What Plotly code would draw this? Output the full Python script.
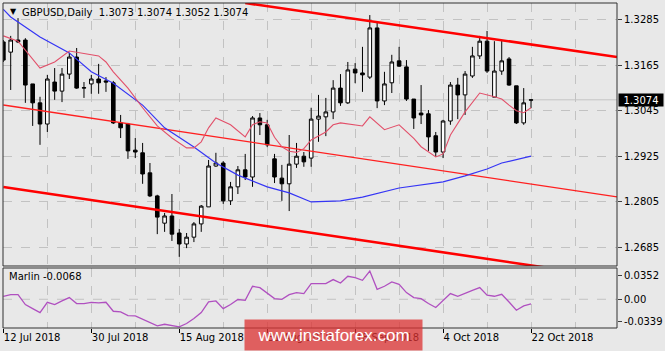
import plotly.graph_objects as go

# ---- data ----
bar_idx = list(range(73))
tick_idx = [0, 12, 24, 36, 48, 60, 72]
tick_text = ['12 Jul 2018', '30 Jul 2018', '15 Aug 2018', '31 Aug 2018',
             '18 Sep 2018', '4 Oct 2018', '22 Oct 2018']

open_ = [1.3227,1.3200,1.3232,1.3232,1.3116,1.3066,1.3010,1.3121,1.3097,1.3142,
         1.3187,1.3105,1.3116,1.3129,1.3124,1.3119,1.3013,1.3010,1.2941,1.2934,
         1.2881,1.2820,1.2748,1.2767,1.2722,1.2693,1.2711,1.2746,1.2791,1.2899,
         1.2907,1.2807,1.2844,1.2889,1.2870,1.3026,1.3008,1.2918,1.2867,1.2852,
         1.2904,1.2925,1.2920,1.3023,1.3029,1.3042,1.3105,1.3066,1.3155,1.3145,
         1.3134,1.3264,1.3071,1.3119,1.3177,1.3161,1.3076,1.3039,1.3037,1.2979,
         1.2936,1.3018,1.3113,1.3087,1.3137,1.3190,1.3229,1.3081,1.3150,1.3182,
         1.3111,1.3013,1.3073]
high = [1.3232,1.3243,1.3290,1.3237,1.3116,1.3082,1.3140,1.3158,1.3158,1.3198,
        1.3211,1.3121,1.3140,1.3169,1.3134,1.3124,1.3034,1.3013,1.2973,1.2960,
        1.2907,1.2823,1.2775,1.2825,1.2733,1.2722,1.2751,1.2796,1.2915,1.2934,
        1.2912,1.2857,1.2899,1.2931,1.3031,1.3039,1.3021,1.2931,1.2902,1.2981,
        1.2960,1.2936,1.3053,1.3087,1.3079,1.3126,1.3142,1.3174,1.3171,1.3214,
        1.3298,1.3277,1.3148,1.3193,1.3214,1.3179,1.3076,1.3113,1.3047,1.2989,
        1.3021,1.3121,1.3132,1.3150,1.3214,1.3243,1.3256,1.3229,1.3232,1.3187,
        1.3111,1.3105,1.3074]
low = [1.3174,1.3100,1.3224,1.3066,1.3005,1.2955,1.2989,1.3074,1.3068,1.3129,
       1.3103,1.3079,1.3090,1.3090,1.3095,1.3010,1.2973,1.2918,1.2920,1.2852,
       1.2817,1.2719,1.2725,1.2701,1.2659,1.2682,1.2698,1.2725,1.2791,1.2897,
       1.2799,1.2796,1.2825,1.2862,1.2844,1.2981,1.2949,1.2854,1.2807,1.2780,
       1.2894,1.2897,1.2897,1.2963,1.2978,1.3023,1.3058,1.3063,1.3118,1.3095,
       1.3129,1.3052,1.3060,1.3092,1.3161,1.3071,1.2997,1.3010,1.2939,1.2923,
       1.2920,1.3008,1.3023,1.3034,1.3132,1.3182,1.3145,1.3081,1.3140,1.3111,
       1.3010,1.3008,1.3052]
close = [1.3179,1.3232,1.3227,1.3113,1.3066,1.3010,1.3129,1.3097,1.3142,1.3187,
         1.3105,1.3106,1.3129,1.3119,1.3121,1.3013,1.3000,1.2939,1.2936,1.2878,
         1.2820,1.2764,1.2767,1.2719,1.2693,1.2711,1.2746,1.2793,1.2899,1.2907,
         1.2807,1.2844,1.2889,1.2870,1.3026,1.3008,1.2955,1.2870,1.2852,1.2904,
         1.2925,1.2910,1.3023,1.3031,1.3042,1.3105,1.3066,1.3153,1.3145,1.3140,
         1.3264,1.3071,1.3116,1.3174,1.3163,1.3076,1.3026,1.3034,1.2976,1.2936,
         1.3018,1.3113,1.3087,1.3142,1.3190,1.3229,1.3150,1.3150,1.3177,1.3113,
         1.3013,1.3066,1.3074]

# red (fast) moving average, read points
red_ma_x = [0,2,5,7,9,10,13,14,15,17,19,21,23,25,26,27,28,29,31,33,34,35,36,37,38,39,40,
            41,42,44,45,46,49,50,52,54,56,57,59,60,61,63,65,67,68,69,70,71,72]
red_ma_y = [1.3243,1.3229,1.3158,1.3174,1.3203,1.3200,1.3190,1.3174,1.3148,1.3105,1.3053,
            1.3005,1.2973,1.2947,1.2947,1.2963,1.3000,1.3026,1.3008,1.2976,1.3008,1.3016,
            1.3013,1.2975,1.2950,1.2938,1.2935,1.2945,1.2968,1.2989,1.3008,1.3013,1.3005,
            1.3029,1.2995,1.3008,1.2972,1.2950,1.2923,1.2931,1.2981,1.3042,1.3092,1.3082,
            1.3076,1.3060,1.3045,1.3040,1.3053]

# blue (slow) moving average, read points
blue_ma_x = [0,1,5,9,12,15,19,22,26,29,32,36,39,42,46,49,54,57,60,63,66,68,72]
blue_ma_y = [1.3313,1.3293,1.3240,1.3198,1.3148,1.3118,1.3060,1.3000,1.2949,1.2907,1.2875,
             1.2844,1.2828,1.2804,1.2807,1.2817,1.2841,1.2849,1.2857,1.2873,1.2891,1.2907,
             1.2925]

# channel lines (start / end points)
top_line_x = [33.0, 83.73]
top_line_y = [1.33299, 1.31872]
mid_line_x = [0.0, 83.73]
mid_line_y = [1.30603, 1.28172]
bot_line_x = [0.0, 83.73]
bot_line_y = [1.28436, 1.26026]

# Marlin oscillator
marlin = [0.0045,0.0070,0.0070,-0.0079,-0.0139,-0.0198,-0.0045,-0.0079,-0.0025,0.0025,
          -0.0064,-0.0064,-0.0045,-0.0055,-0.0045,-0.0179,-0.0189,-0.0243,-0.0249,-0.0302,
          -0.0353,-0.0398,-0.0373,-0.0392,-0.0413,-0.0362,-0.0288,-0.0198,-0.0040,-0.0025,
          -0.0139,-0.0079,-0.0004,-0.0015,0.0194,0.0174,0.0094,0.0010,0.0000,0.0070,
          0.0100,0.0085,0.0234,0.0234,0.0234,0.0294,0.0243,0.0343,0.0323,0.0283,
          0.0422,0.0149,0.0194,0.0258,0.0224,0.0100,0.0025,0.0010,-0.0064,-0.0124,
          -0.0015,0.0085,0.0045,0.0094,0.0134,0.0174,0.0060,0.0045,0.0075,-0.0040,
          -0.0164,-0.0100,-0.0068]

price_ticks = [1.3285, 1.3165, 1.3045, 1.2925, 1.2805, 1.2685]
osc_ticks = [0.0352, 0.0, -0.0339]
osc_tick_text = ['0.0352', '0.00', '-0.0339']
bid = 1.3074
title_text = 'GBPUSD,Daily  1.3073 1.3074 1.3052 1.3074'
marlin_label = 'Marlin -0.0068'

# ---- figure ----
FONT = 'DejaVu Sans'
BG = '#e8e8e8'
GRID = '#c2c2c2'

fig = go.Figure()

fig.add_trace(go.Scatter(x=mid_line_x, y=mid_line_y, mode='lines',
                         line=dict(color='#ff2020', width=1.3), hoverinfo='skip'))
fig.add_trace(go.Scatter(x=top_line_x, y=top_line_y, mode='lines',
                         line=dict(color='#ff0000', width=2.6), hoverinfo='skip'))
fig.add_trace(go.Scatter(x=bot_line_x, y=bot_line_y, mode='lines',
                         line=dict(color='#ff0000', width=2.6), hoverinfo='skip'))
fig.add_trace(go.Scatter(x=blue_ma_x, y=blue_ma_y, mode='lines',
                         line=dict(color='#3535f5', width=1.2), hoverinfo='skip'))
fig.add_trace(go.Scatter(x=red_ma_x, y=red_ma_y, mode='lines',
                         line=dict(color='#e2506a', width=1.1), hoverinfo='skip'))

fig.add_trace(go.Candlestick(
    x=bar_idx, open=open_, high=high, low=low, close=close,
    increasing=dict(line=dict(color='black', width=1), fillcolor='white'),
    decreasing=dict(line=dict(color='black', width=1), fillcolor='black'),
    whiskerwidth=0, xaxis='x', yaxis='y', hoverinfo='skip'))

fig.add_trace(go.Scatter(x=bar_idx, y=marlin, mode='lines', xaxis='x', yaxis='y2',
                         line=dict(color='#b050c0', width=1.3), hoverinfo='skip'))

fig.update_layout(
    width=665, height=351,
    margin=dict(l=3, r=48, t=3, b=23),
    paper_bgcolor=BG, plot_bgcolor=BG,
    showlegend=False,
    font=dict(family=FONT, size=10, color='black'),
    xaxis=dict(
        range=[-0.05, 83.73], anchor='y2',
        tickvals=tick_idx, ticktext=tick_text,
        ticks='outside', ticklen=4, tickcolor='black',
        ticklabelposition='outside right',
        showgrid=True, gridcolor=GRID, griddash='dash', gridwidth=1,
        minor=dict(dtick=6, tick0=0, showgrid=True, gridcolor=GRID, griddash='dash', ticks=''),
        rangeslider=dict(visible=False),
        zeroline=False, showline=False,
        tickfont=dict(family=FONT, size=10, color='black'),
    ),
    yaxis=dict(
        domain=[0.1908, 1.0], range=[1.26348, 1.33299], side='right',
        tickvals=price_ticks, ticktext=['%.4f' % v for v in price_ticks],
        ticks='outside', ticklen=4, tickcolor='#404040',
        showgrid=True, gridcolor=GRID, griddash='dash', gridwidth=1,
        zeroline=False, showline=False,
        tickfont=dict(family=FONT, size=10, color='black'),
    ),
    yaxis2=dict(
        domain=[0.0, 0.1846], range=[-0.0429, 0.0467], side='right',
        tickvals=osc_ticks, ticktext=osc_tick_text,
        ticks='outside', ticklen=4, tickcolor='#404040',
        showgrid=False, zeroline=False, showline=False,
        tickfont=dict(family=FONT, size=10, color='black'),
    ),
)

# zero level in oscillator
fig.add_shape(type='line', xref='x domain', yref='y2', x0=0, x1=1, y0=0, y1=0,
              line=dict(color=GRID, width=1, dash='dash'), layer='below')
# bid line
fig.add_shape(type='line', xref='x domain', yref='y', x0=0, x1=1, y0=bid, y1=bid,
              line=dict(color='#c4c4c4', width=1), layer='below')
# panel borders
fig.add_shape(type='rect', xref='x domain', yref='y domain', x0=0, x1=1, y0=0, y1=1,
              line=dict(color='#303030', width=1))
fig.add_shape(type='rect', xref='x domain', yref='y2 domain', x0=0, x1=1, y0=0, y1=1,
              line=dict(color='#303030', width=1))

# title
fig.add_annotation(text='\u25bc', xref='paper', yref='paper', x=0.0085, y=0.973,
                   xanchor='left', yanchor='middle', showarrow=False,
                   font=dict(family=FONT, size=8, color='black'))
fig.add_annotation(text=title_text, xref='paper', yref='paper', x=0.0277, y=0.972,
                   xanchor='left', yanchor='middle', showarrow=False,
                   font=dict(family=FONT, size=10, color='black'))
fig.add_annotation(text=marlin_label, xref='paper', yref='paper', x=0.0065, y=0.157,
                   xanchor='left', yanchor='middle', showarrow=False,
                   font=dict(family=FONT, size=10, color='black'))
# price tag
fig.add_annotation(text='%.4f' % bid, xref='paper', yref='y', x=1, y=bid,
                   xanchor='left', yanchor='middle', xshift=1, showarrow=False,
                   bgcolor='black', borderpad=0, width=44, height=12,
                   font=dict(family=FONT, size=10, color='white'))
# watermark
fig.add_annotation(text='www.instaforex.com', xref='paper', yref='paper', x=0.538, y=-0.0215,
                   xanchor='center', yanchor='middle', showarrow=False,
                   bgcolor='rgba(220,50,50,0.75)', width=175, height=28, borderpad=1,
                   font=dict(family='Liberation Sans', size=17, color='white'))

fig.write_html('out.html')
